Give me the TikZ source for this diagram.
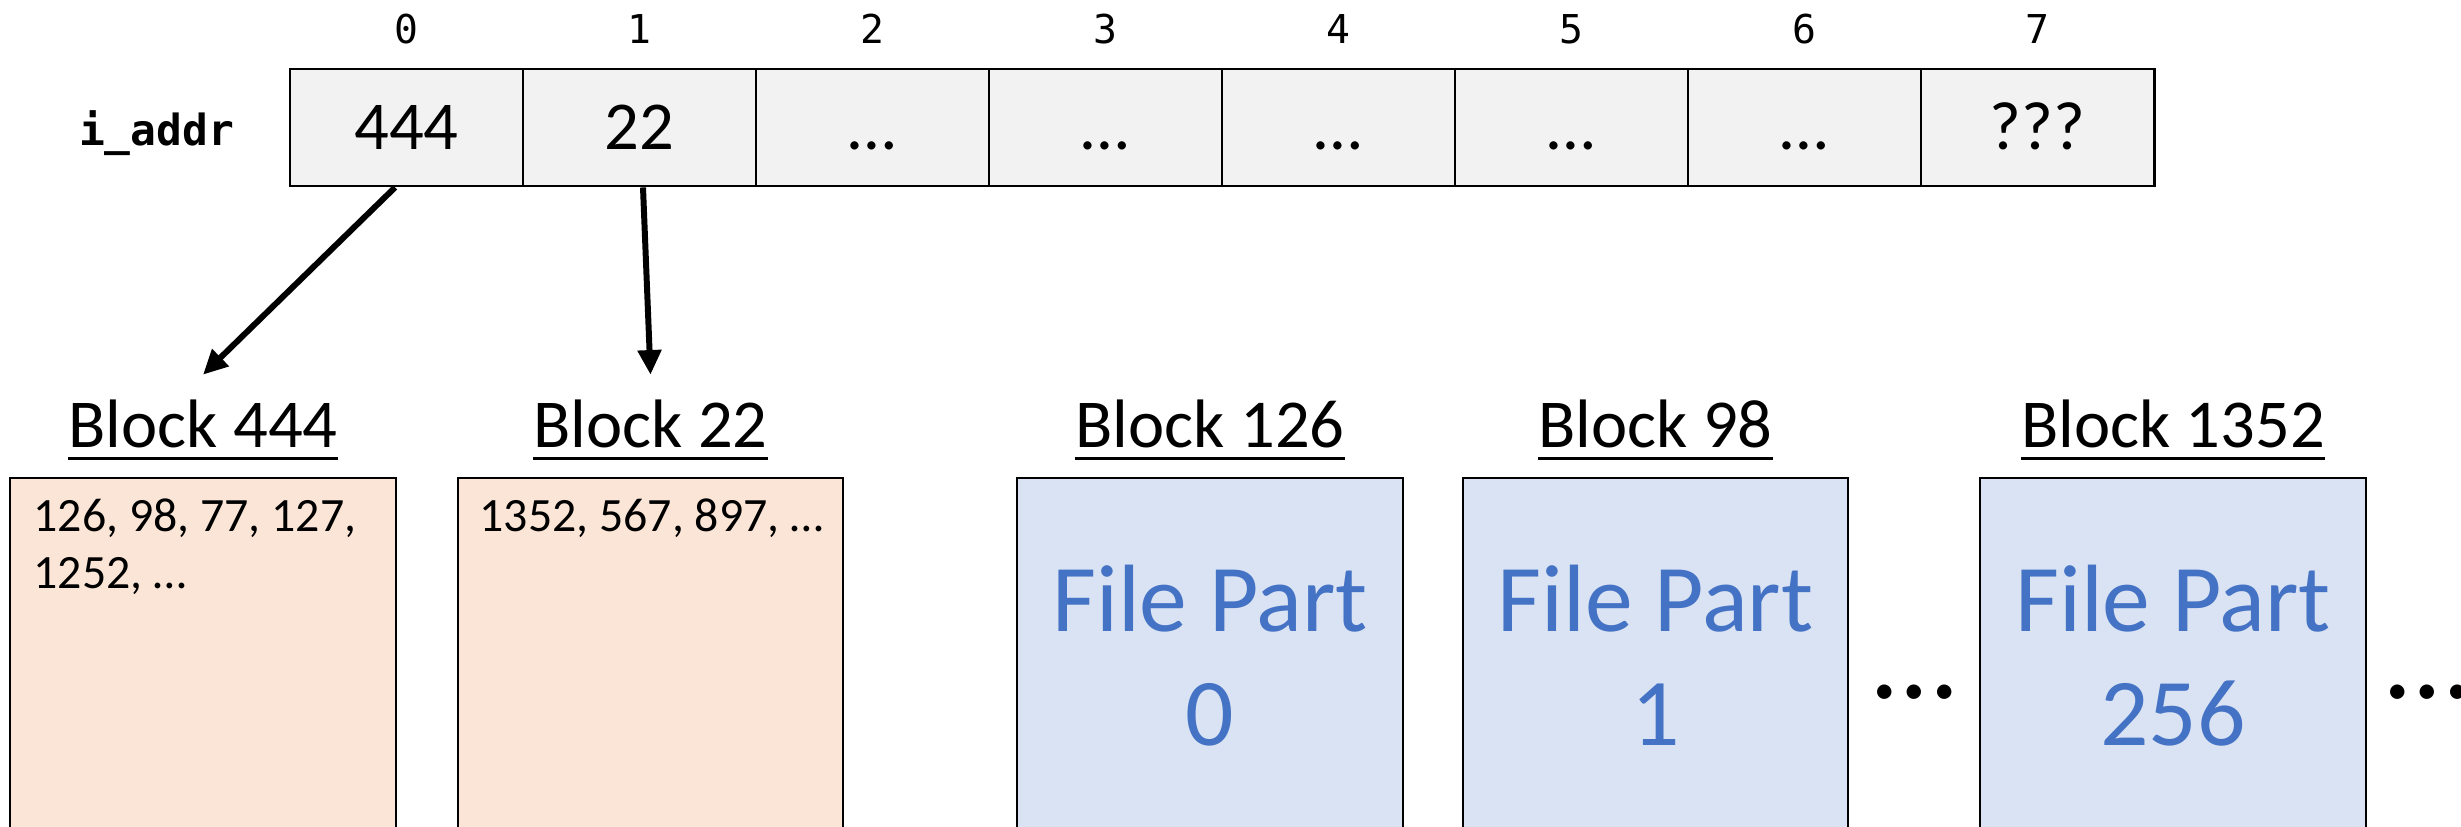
\documentclass[tikz,border=0pt]{standalone}
\usepackage{fontspec}
\setmainfont{Carlito}
\setmonofont{DejaVu Sans Mono}
\usetikzlibrary{arrows.meta,calc}
\definecolor{cellgray}{HTML}{F2F2F2}
\definecolor{ptrorange}{HTML}{FBE5D6}
\definecolor{datablue}{HTML}{DAE3F3}
\definecolor{textblue}{HTML}{4472C4}
\newcommand{\blklabel}[1]{\setbox0\hbox{#1}\rlap{\rule[-3.6pt]{\wd0}{0.9pt}}\box0}
\tikzset{
        cell/.style={draw,line width=0.8pt,fill=cellgray,minimum width=2.33cm,minimum height=1.17cm,
                inner sep=0pt,text height=12.4pt,text depth=0pt,font=\fontsize{19.5}{23}\selectfont},
        idx/.style={anchor=base,inner sep=0pt,font=\ttfamily\fontsize{11.3}{13}\selectfont},
        blk/.style={anchor=base,inner sep=0pt,font=\fontsize{19.5}{23}\selectfont},
        ptrbox/.style={draw,line width=0.8pt,fill=ptrorange},
        databox/.style={draw,line width=0.8pt,fill=datablue},
        list/.style={anchor=base west,align=left,inner sep=0pt,font=\fontsize{13.6}{16.1}\selectfont},
        part/.style={anchor=base,align=center,inner sep=0pt,text=textblue,font=\fontsize{27.2}{32.4}\selectfont},
        more/.style={anchor=base,inner sep=0pt,font=\fontsize{34}{40}\selectfont},
        ptr/.style={line width=1.7pt,-{Triangle[length=7pt,width=6.5pt]}}
}
\begin{document}
\begin{tikzpicture}[x=0.01cm,y=0.01cm]
        \useasboundingbox (0,0) rectangle (2461,826);
        \clip (0,0) rectangle (2461,826);
        %% i_addr array
        \node[anchor=base,inner sep=0pt,font=\ttfamily\bfseries\fontsize{12.2}{14}\selectfont] (name) at (156.5,681) {i\_addr};
        \foreach \i/\t in {0/444,1/22,2/…,3/…,4/…,5/…,6/…,7/???} {
                \node[cell] (c\i) at ({406.5+233*\i},698.5) {\t};
                \node[idx] (i\i) at ({406.5+233*\i},783) {\i};
        }
        %% blocks
        \draw[ptrbox] (10,348) rectangle (396,-20);
        \draw[ptrbox] (458,348) rectangle (843,-20);
        \draw[databox] (1017,348) rectangle (1403,-20);
        \draw[databox] (1463,348) rectangle (1848,-20);
        \draw[databox] (1980,348) rectangle (2366,-20);
        \node[blk] (b444) at (203,379) {\blklabel{Block 444}};
        \node[blk] (b22) at (650.5,379) {\blklabel{Block 22}};
        \node[blk] (b126) at (1210,379) {\blklabel{Block 126}};
        \node[blk] (b98) at (1655.5,379) {\blklabel{Block 98}};
        \node[blk] (b1352) at (2173,379) {\blklabel{Block 1352}};
        %% contents (base = last line)
        \node[list] (l444) at (33,237.6) {126, 98, 77, 127,\\1252, …};
        \node[list] (l22) at (479,294.3) {1352, 567, 897, …};
        \node[part] (p0) at (1210,81) {File Part\\0};
        \node[part] (p1) at (1655.5,81) {File Part\\1};
        \node[part] (p256) at (2173,81) {File Part\\256};
        \node[more] (m1) at (1915,128) {…};
        \node[more] (m2) at (2428,128) {…};
        %% pointers
        \draw[ptr] ($(c0.south)+(-11.5,0)$) -- ($(b444.north)+(0,24)$);
        \draw[ptr] ($(c1.south)+(3.5,0)$) -- ($(b22.north)+(0,24)$);
\end{tikzpicture}
\end{document}
